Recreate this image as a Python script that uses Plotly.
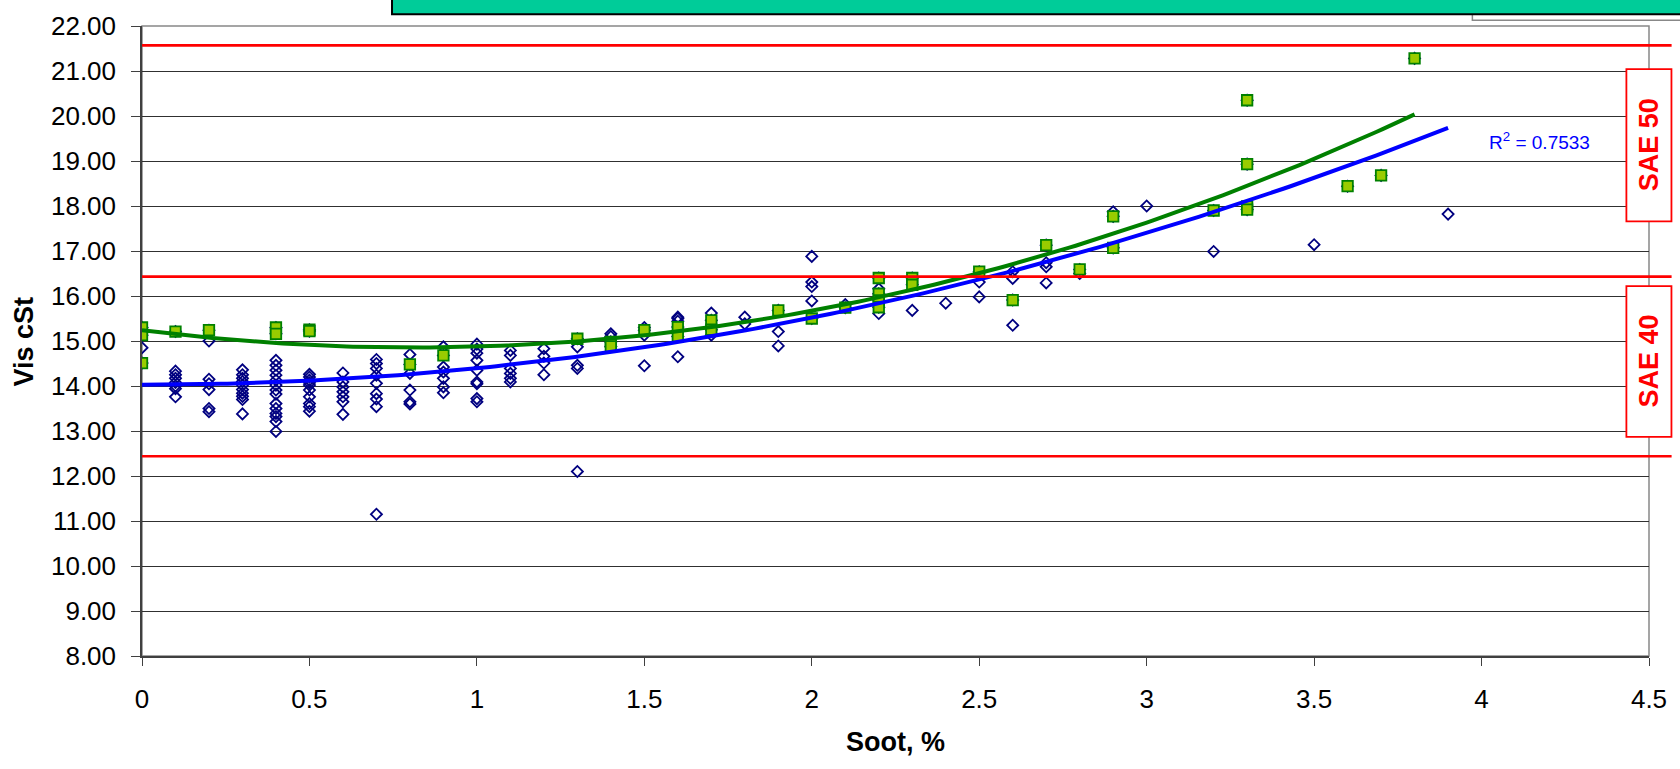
import numpy as np
import plotly.graph_objects as go

# ---------------- data ----------------
# open diamonds: all samples (those that are also highlighted sit under the squares)
diamond_x = ([0.0] + [0.1]*7 + [0.2]*6 + [0.3]*10 + [0.4]*14 + [0.5]*10 + [0.6]*7 + [0.7]*9 +
             [0.8]*5 + [0.9]*6 + [1.0]*9 + [1.1]*6 + [1.2]*4 + [1.3]*4 + [1.4]*2 + [1.5]*3 +
             [1.6]*4 + [1.7]*2 + [1.8]*2 + [1.9]*2 + [2.0]*4 + [2.1] + [2.2]*2 + [2.3] + [2.4] +
             [2.5]*2 + [2.6]*3 + [2.7]*3 + [2.8] + [2.9] + [3.0] + [3.2] + [3.5] + [3.9])
diamond_y = [14.85,
             14.33, 14.25, 14.17, 14.08, 14.00, 13.94, 13.76,
             15.00, 14.15, 14.05, 13.92, 13.50, 13.43,
             14.36, 14.25, 14.17, 14.10, 14.02, 13.92, 13.84, 13.77, 13.70, 13.38,
             14.57, 14.46, 14.35, 14.24, 14.13, 14.02, 13.91, 13.82, 13.61, 13.50, 13.39, 13.32, 13.21, 12.99,
             14.26, 14.20, 14.13, 14.07, 14.02, 13.91, 13.76, 13.61, 13.54, 13.44,
             14.29, 14.09, 13.98, 13.87, 13.76, 13.65, 13.37,
             14.59, 14.50, 14.39, 14.24, 14.06, 13.83, 13.71, 13.54, 11.15,
             14.70, 14.28, 13.91, 13.65, 13.60,
             14.87, 14.42, 14.31, 14.17, 13.98, 13.85,
             14.93, 14.82, 14.73, 14.57, 14.35, 14.09, 14.05, 13.72, 13.65,
             14.79, 14.68, 14.39, 14.28, 14.17, 14.09,
             14.83, 14.66, 14.51, 14.25,
             14.87, 14.46, 14.39, 12.10,
             15.16, 15.10,
             15.30, 15.13, 14.45,
             15.53, 15.50, 15.44, 14.65,
             15.62, 15.13,
             15.53, 15.38,
             15.21, 14.89,
             16.88, 16.31, 16.21, 15.89,
             15.81,
             16.16, 15.61,
             15.68,
             15.84,
             16.31, 15.98,
             16.54, 16.39, 15.35,
             16.74, 16.65, 16.29,
             16.50,
             17.87,
             18.00,
             16.99,
             17.14,
             17.82]

# filled squares: highlighted samples
square_x = ([0.0]*3 + [0.1] + [0.2] + [0.4]*2 + [0.5]*2 + [0.8] + [0.9] + [1.3] + [1.4]*2 + [1.5] +
            [1.6]*2 + [1.7]*2 + [1.9] + [2.0] + [2.1] + [2.2]*4 + [2.3]*2 + [2.5] + [2.6] + [2.7] +
            [2.8] + [2.9]*2 + [3.2] + [3.3]*4 + [3.6] + [3.7] + [3.8])
square_y = [15.30, 15.13, 14.51,
            15.21,
            15.24,
            15.30, 15.16,
            15.25, 15.22,
            14.48,
            14.68,
            15.05,
            14.98, 14.88,
            15.24,
            15.31, 15.10,
            15.46, 15.25,
            15.68,
            15.50,
            15.74,
            16.40, 16.05, 15.90, 15.75,
            16.40, 16.25,
            16.54,
            15.91,
            17.13,
            16.59,
            17.77, 17.07,
            17.90,
            20.35, 18.93, 17.99, 17.92,
            18.44,
            18.68,
            21.28]

limit_lines = [21.57, 16.43, 12.44]      # red grade limits, cSt
sae_bands = [("SAE 50", 17.66, 21.04), ("SAE 40", 12.87, 16.22)]
r2_text = "R<sup>2</sup> = 0.7533"

x_ticks = [0, 0.5, 1, 1.5, 2, 2.5, 3, 3.5, 4, 4.5]
y_ticks = list(range(8, 23))

FONT = "Liberation Sans, Arial, sans-serif"

# all samples = open diamonds plus the highlighted ones hidden under the squares
all_x = diamond_x + square_x
all_y = diamond_y + square_y

# ---------------- polynomial trendlines (order 2, like Excel) ----------------
def trend(xs, ys):
    c = np.polyfit(xs, ys, 2)
    xx = np.linspace(0, max(xs), 200)
    return xx, np.polyval(c, xx)

bx, by = trend(all_x, all_y)
gx, gy = trend(square_x, square_y)

fig = go.Figure()
fig.add_trace(go.Scatter(x=all_x, y=all_y, mode="markers",
                         marker=dict(symbol="diamond-open", size=8.5, color="#000080",
                                     line=dict(width=1.8, color="#000080")),
                         showlegend=False))
fig.add_trace(go.Scatter(x=square_x, y=square_y, mode="markers",
                         marker=dict(symbol="square", size=10.5, color="#99CC00",
                                     line=dict(width=1.8, color="#008000")),
                         showlegend=False))
fig.add_trace(go.Scatter(x=bx, y=by, mode="lines", line=dict(color="#0000FF", width=4),
                         showlegend=False, hoverinfo="skip"))
fig.add_trace(go.Scatter(x=gx, y=gy, mode="lines", line=dict(color="#008000", width=4),
                         showlegend=False, hoverinfo="skip"))

def yp(v):
    return (v - 8) / 14.0

shapes = []
# plot border (gray top/right)
shapes.append(dict(type="rect", xref="paper", yref="paper", x0=0, x1=1, y0=0, y1=1,
                   line=dict(color="#888888", width=1.5), layer="below"))
# red limit lines
for v in limit_lines:
    shapes.append(dict(type="line", xref="paper", yref="paper", x0=0, x1=1.015,
                       y0=yp(v), y1=yp(v), line=dict(color="#FF0000", width=2.6),
                       layer="above"))
# SAE boxes
annotations = []
for label, lo, hi in sae_bands:
    shapes.append(dict(type="rect", xref="paper", yref="paper", x0=0.985, x1=1.0149,
                       y0=yp(lo), y1=yp(hi), fillcolor="#FFFFFF", opacity=1, layer="above",
                       line=dict(color="#FF0000", width=1.8)))
    annotations.append(dict(xref="paper", yref="paper", x=1.0, y=yp((lo + hi) / 2),
                            xanchor="center", yanchor="middle",
                            text="<b>%s</b>" % label, textangle=-90, showarrow=False,
                            font=dict(family=FONT, size=27, color="#FF0000")))
# partially hidden legend box and teal title box at the top
shapes.append(dict(type="rect", xref="paper", yref="paper", x0=0.8828, x1=1.1,
                   y0=1.009, y1=1.1, fillcolor="white", line=dict(color="#888888", width=1.5)))
shapes.append(dict(type="rect", xref="paper", yref="paper", x0=0.1659, x1=1.1,
                   y0=1.0186, y1=1.1, fillcolor="#00CC99", line=dict(color="#000000", width=2)))

annotations.append(dict(x=4.172, y=19.44, xref="x", yref="y", text=r2_text, showarrow=False,
                        font=dict(family=FONT, size=19, color="#0000FF")))
annotations.append(dict(xref="paper", yref="paper", x=-0.078, y=0.5, text="<b>Vis cSt</b>",
                        textangle=-90, showarrow=False, xanchor="center", yanchor="middle",
                        font=dict(family=FONT, size=27, color="#000000")))
annotations.append(dict(xref="paper", yref="paper", x=0.5, y=-0.136, text="<b>Soot, %</b>",
                        showarrow=False, xanchor="center", yanchor="middle",
                        font=dict(family=FONT, size=27, color="#000000")))

fig.update_layout(
    width=1680, height=769,
    margin=dict(l=142, r=31, t=26, b=113, pad=0),
    paper_bgcolor="white", plot_bgcolor="white",
    shapes=shapes, annotations=annotations,
    font=dict(family=FONT, size=26, color="#000000"),
    showlegend=False,
)
fig.update_xaxes(range=[0, 4.5], tickvals=x_ticks, ticktext=[str(t) for t in x_ticks],
                 showgrid=False, zeroline=False, showline=True, linecolor="#404040", linewidth=1.5,
                 ticks="outside", ticklen=8, tickcolor="#404040", tickwidth=1.2,
                 tickfont=dict(family=FONT, size=26), ticklabelstandoff=11)
fig.update_yaxes(range=[8, 22], tickvals=y_ticks, ticktext=["%.2f" % t for t in y_ticks],
                 showgrid=True, gridcolor="#303030", gridwidth=1, zeroline=False,
                 showline=True, linecolor="#404040", linewidth=1.5,
                 ticks="outside", ticklen=9, tickcolor="#404040", tickwidth=1.2,
                 tickfont=dict(family=FONT, size=26), ticklabelstandoff=10)

fig.write_html("out.html")
